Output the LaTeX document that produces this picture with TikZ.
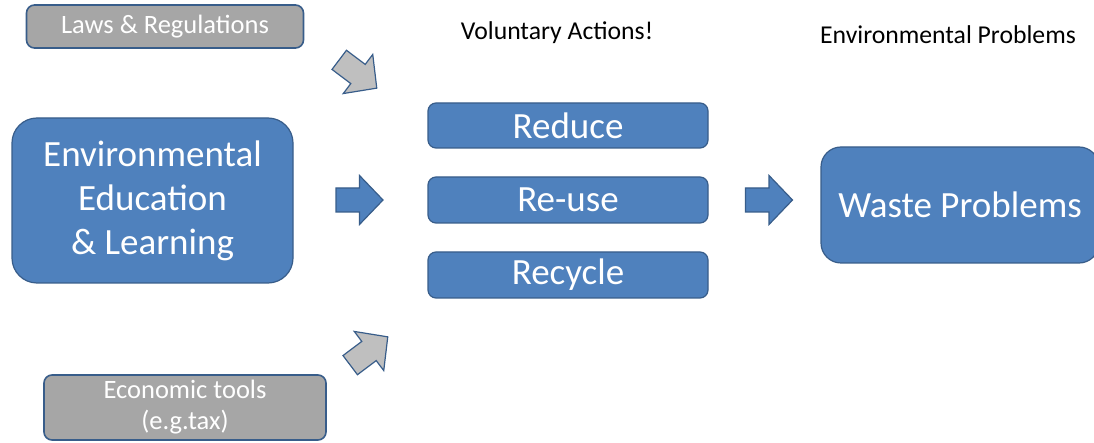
\documentclass[tikz,border=0pt]{standalone}
\usepackage{fontspec}
\setmainfont{Carlito}
\definecolor{boxblue}{HTML}{4F81BD}
\definecolor{edgeblue}{HTML}{385D8A}
\definecolor{boxgray}{HTML}{A6A6A6}
\definecolor{arrowgray}{HTML}{BFBFBF}
\tikzset{
  bluebox/.style={draw=edgeblue, fill=boxblue, line width=1.2pt, text=white,
    rounded corners=8pt, font=\fontsize{37}{44}\selectfont, align=center, inner sep=0pt},
  graybox/.style={draw=edgeblue, fill=boxgray, line width=1.6pt, text=white,
    rounded corners=8pt, font=\fontsize{26.5}{31}\selectfont, align=center, inner sep=0pt},
  caption/.style={font=\fontsize{25.7}{30}\selectfont, inner sep=0pt}
}
\newcommand{\blockarrow}[4]{%
  \draw[draw=edgeblue, fill=#4, line width=1.2pt, shift={(#1,#2)}, rotate=#3]
    (-23.5,-12) -- (0,-12) -- (0,-24.5) -- (23.5,0) -- (0,24.5) -- (0,12) -- (-23.5,12) -- cycle;}

\begin{document}
\begin{tikzpicture}[x=1pt, y=-1pt]
  \useasboundingbox (0,0) rectangle (1094,443);
  \node[graybox, minimum width=277, minimum height=43] (laws) at (165,26.5) {Laws \& Regulations};
  \node[graybox, minimum width=282, minimum height=65] (econ) at (185,407.5) {Economic tools\\(e.g.tax)};
  \node[bluebox, rounded corners=25pt, minimum width=281, minimum height=165] (edu) at (152.5,200.5)
    {Environmental\\Education\\\& Learning};
  \node[bluebox, minimum width=280, minimum height=45] (reduce) at (568,125.5) {Reduce};
  \node[bluebox, minimum width=280, minimum height=46] (reuse) at (568,200) {Re-use};
  \node[bluebox, minimum width=280, minimum height=46] (recycle) at (568,275) {Recycle};
  \node[bluebox, rounded corners=20pt, minimum width=278, minimum height=116] (waste) at (960,205) {Waste Problems};
  \node[caption] (voluntary) at (557,33) {Voluntary Actions!};
  \node[caption] (envprob) at (948,35) {Environmental Problems};
  \blockarrow{358}{74}{-37}{arrowgray}
  \blockarrow{369}{351}{37}{arrowgray}
  \blockarrow{359.5}{200}{0}{boxblue}
  \blockarrow{769}{200}{0}{boxblue}
\end{tikzpicture}
\end{document}
